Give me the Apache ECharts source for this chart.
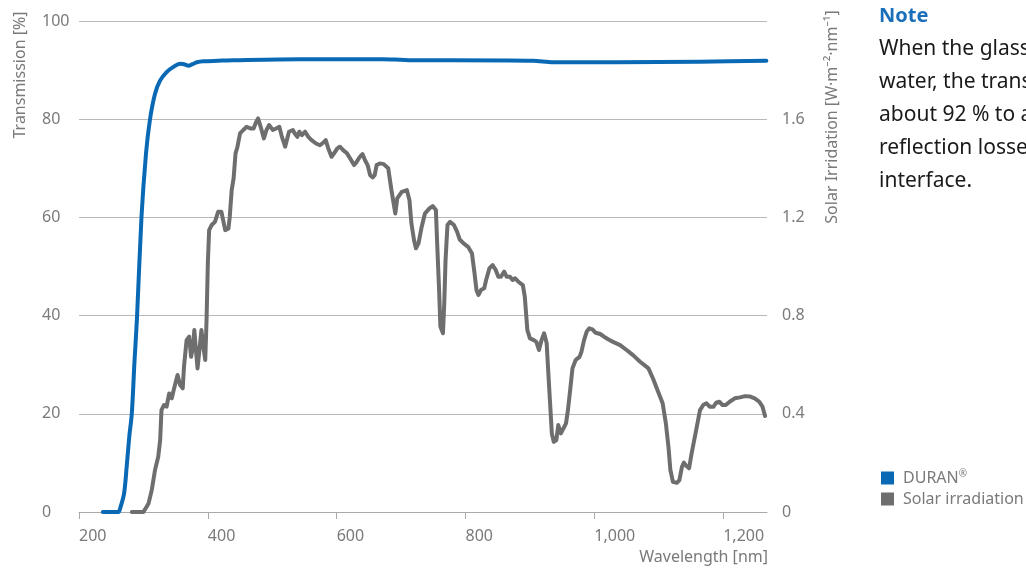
<!DOCTYPE html>
<html lang="en">
<head>
    <meta charset="UTF-8">
    <title>DURAN transmission</title>
    <script src="https://cdn.jsdelivr.net/npm/echarts@6/dist/echarts.min.js"></script>
    <style type="text/css">
        body{ margin:0; background:#fff; }
        #main{ width:1026px; height:569px; }
    </style>
</head>
<body>
<div id="main"></div>
<script type="text/javascript">
    // wavelength [nm], transmission [%]
    var transmission = [
        [237,0],[261,0],[264,0.8],[270,3.8],[274,9.2],[278,15.3],[282,20.1],[286,30.3],[290,39.5],
        [297,60.1],[304,73],[310,79.8],[318,85.2],[326,87.9],[336,89.6],[346,90.6],[357,91.3],
        [363,91.2],[370,90.9],[376,91.2],[383,91.6],[393,91.8],[416,91.9],[440,92],[543,92.2],
        [672,92.2],[698,92.1],[724,92],[776,92],[905,91.9],[936,91.6],[1035,91.6],[1164,91.7],[1267,91.9]
    ];
    // wavelength [nm], solar irradiation [W/m2/nm]
    var solar = [
        [282,0],[300,0],[308,0.035],[313,0.09],[318,0.171],[323,0.225],[326,0.293],[328,0.415],
        [332,0.436],[336,0.429],[340,0.483],[344,0.463],[347,0.497],[353,0.558],[357,0.517],
        [361,0.504],[363,0.592],[367,0.7],[371,0.714],[374,0.632],[377,0.673],[379,0.741],
        [382,0.646],[384,0.585],[388,0.687],[390,0.741],[393,0.673],[396,0.619],[398,0.782],
        [400,1.013],[402,1.148],[406,1.169],[411,1.182],[416,1.223],[421,1.223],[427,1.148],
        [432,1.155],[434,1.202],[437,1.311],[440,1.359],[443,1.461],[446,1.488],[450,1.542],
        [455,1.556],[460,1.569],[467,1.562],[471,1.562],[475,1.589],[478,1.603],[482,1.569],
        [487,1.522],[491,1.556],[495,1.576],[501,1.556],[506,1.562],[511,1.569],[515,1.528],
        [520,1.488],[523,1.488],[526,1.549],[532,1.556],[535,1.542],[539,1.528],[542,1.549],
        [546,1.535],[551,1.549],[556,1.528],[561,1.515],[568,1.501],[574,1.494],[579,1.504],
        [583,1.515],[587,1.481],[592,1.447],[596,1.461],[601,1.481],[605,1.488],[610,1.474],
        [616,1.461],[621,1.44],[627,1.413],[631,1.426],[636,1.447],[640,1.458],[644,1.433],
        [648,1.413],[652,1.372],[656,1.363],[659,1.372],[662,1.413],[667,1.42],[673,1.417],
        [680,1.4],[685,1.311],[691,1.216],[694,1.277],[701,1.304],[709,1.311],[713,1.27],
        [716,1.176],[720,1.108],[723,1.074],[727,1.094],[732,1.162],[737,1.216],[744,1.237],
        [749,1.246],[754,1.23],[756,1.094],[759,0.904],[761,0.755],[765,0.728],[767,0.85],
        [769,1.026],[772,1.169],[776,1.182],[782,1.169],[787,1.141],[791,1.11],[797,1.094],
        [804,1.08],[810,1.053],[814,0.972],[817,0.904],[820,0.884],[824,0.904],[829,0.911],
        [832,0.945],[837,0.992],[842,1.006],[847,0.985],[851,0.958],[855,0.958],[860,0.979],
        [864,0.958],[869,0.958],[873,0.945],[877,0.952],[882,0.938],[889,0.924],[892,0.877],
        [896,0.741],[900,0.707],[906,0.7],[910,0.693],[914,0.66],[918,0.7],[922,0.728],
        [926,0.687],[928,0.592],[931,0.456],[934,0.32],[937,0.286],[941,0.293],[944,0.354],
        [948,0.32],[952,0.341],[956,0.361],[959,0.415],[963,0.51],[966,0.585],[971,0.619],
        [977,0.632],[980,0.653],[984,0.7],[988,0.734],[992,0.748],[997,0.744],[1002,0.73],
        [1009,0.725],[1015,0.714],[1022,0.703],[1029,0.693],[1040,0.68],[1050,0.66],[1060,0.639],
        [1071,0.612],[1084,0.585],[1091,0.544],[1099,0.49],[1106,0.443],[1111,0.361],[1115,0.266],
        [1118,0.171],[1122,0.123],[1128,0.119],[1132,0.13],[1136,0.184],[1139,0.201],[1143,0.187],
        [1147,0.178],[1151,0.239],[1155,0.293],[1159,0.347],[1164,0.415],[1169,0.436],[1174,0.443],
        [1179,0.429],[1185,0.429],[1189,0.445],[1194,0.449],[1199,0.436],[1204,0.436],[1210,0.449],
        [1218,0.463],[1226,0.467],[1234,0.472],[1242,0.47],[1249,0.463],[1256,0.449],[1261,0.429],
        [1265,0.391]
    ];
    var seriesNames = ['DURAN®', 'Solar irradiation'];
    var noteLines = [
        'When the glass is in contact with',
        'water, the transmission increases to',
        'about 92 % to almost 100 % as the',
        'reflection losses at the glass-air',
        'interface.'
    ];

    var blue = '#0a69b4', grey = '#6e6e6e', labelGrey = '#7a7a7a';
    var font = 'Noto Sans';

    var myChart = echarts.init(document.getElementById('main'));

    var option = {
        animation: false,
        textStyle: { fontFamily: font },
        grid: { left: 79, right: 259, top: 21, bottom: 57 },
        legend: {
            data: seriesNames,
            orient: 'vertical',
            left: 881, top: 469,
            icon: 'rect',
            itemWidth: 13, itemHeight: 13, itemGap: 5,
            padding: 0,
            textStyle: {
                color: labelGrey, fontSize: 16, fontFamily: font, padding: [0, 0, 0, 4],
                rich: { r: { fontSize: 10, color: labelGrey, padding: [0, 0, 8, 0] } }
            },
            formatter: function (name) {
                return name.replace('®', '{r|®}');
            }
        },
        xAxis: {
            type: 'value',
            min: 200, max: 1268, interval: 200,
            axisLine: { lineStyle: { color: '#aaaaaa' } },
            axisTick: { show: true, length: 7, lineStyle: { color: '#aaaaaa' } },
            splitLine: { show: false },
            axisLabel: {
                color: labelGrey, fontSize: 16, align: 'left', margin: 16,
                showMaxLabel: false,
                formatter: function (v) {
                    if (v % 200 !== 0) return '';
                    return v >= 1000 ? Math.floor(v / 1000) + ',' + String(v % 1000).padStart(3, '0') : v;
                }
            },
            name: 'Wavelength [nm]',
            nameLocation: 'end',
            nameGap: 1,
            nameTextStyle: { color: labelGrey, fontSize: 16, align: 'right', verticalAlign: 'top', padding: [37, 0, 0, 0] }
        },
        yAxis: [
            {
                type: 'value', min: 0, max: 100, interval: 20,
                axisLine: { show: false }, axisTick: { show: false },
                splitLine: { lineStyle: { color: '#b8b8b8' } },
                axisLabel: { color: labelGrey, fontSize: 16, align: 'left', margin: 37, padding: [0, 0, 6, 0] }
            },
            {
                type: 'value', min: 0, max: 2, interval: 0.4,
                axisLine: { show: false }, axisTick: { show: false },
                splitLine: { show: false },
                axisLabel: {
                    color: labelGrey, fontSize: 16, margin: 15, padding: [0, 0, 14, 0],
                    formatter: function (v) { return v >= 2 ? '' : v; }
                }
            }
        ],
        graphic: [
            {
                type: 'text', x: 20, y: 75, rotation: Math.PI / 2,
                style: { text: 'Transmission [%]', fill: labelGrey, fontSize: 16, fontFamily: font, align: 'center', verticalAlign: 'middle' }
            },
            {
                type: 'text', x: 832, y: 117, rotation: Math.PI / 2,
                style: { text: 'Solar Irridation [W·m⁻²·nm⁻¹]', fill: labelGrey, fontSize: 16, fontFamily: font, align: 'center', verticalAlign: 'middle' }
            },
            {
                type: 'text', x: 879, y: 16,
                style: { text: 'Note', fill: '#1a6fba', fontSize: 20, fontWeight: 'bold', fontFamily: font, align: 'left', verticalAlign: 'middle' }
            },
            {
                type: 'text', x: 879, y: 33,
                style: { text: noteLines.join('\n'), fill: '#1a1a1a', fontSize: 21, lineHeight: 33, fontFamily: font, align: 'left', verticalAlign: 'top' }
            }
        ],
        series: [
            {
                name: seriesNames[0],
                type: 'line',
                data: transmission,
                yAxisIndex: 0,
                showSymbol: false,
                smooth: 0.3,
                color: blue,
                lineStyle: { width: 4, color: blue, cap: 'round', join: 'round' },
                z: 3
            },
            {
                name: seriesNames[1],
                type: 'line',
                data: solar,
                yAxisIndex: 1,
                showSymbol: false,
                color: grey,
                lineStyle: { width: 4, color: grey, cap: 'round', join: 'round' },
                z: 2
            }
        ]
    };
    myChart.setOption(option);
</script>
</body>
</html>
